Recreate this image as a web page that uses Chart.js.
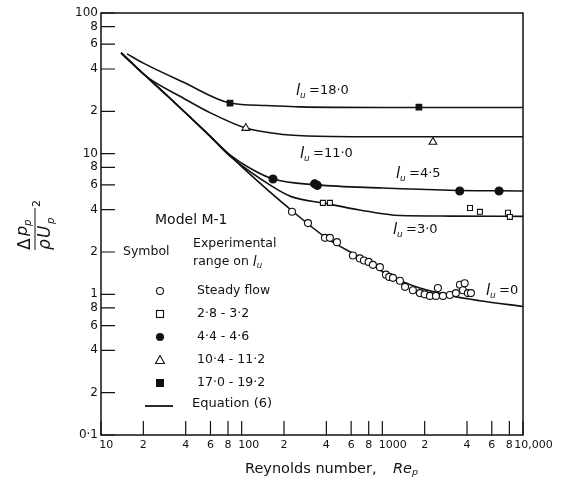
<!DOCTYPE html>
<html>
<head>
<meta charset="utf-8">
<script src="https://cdn.jsdelivr.net/npm/chart.js@4.4.1/dist/chart.umd.min.js"></script>
<style>
  html, body { margin: 0; padding: 0; background: #fff; }
</style>
</head>
<body>
<canvas id="chart" width="566" height="486"></canvas>
<script>
const INK = "#111";
const FONT = "DejaVu Sans";

// axis ticks (decade labels padded so they sit just right of their tick, as in the original)
const xTicks = [10, 20, 40, 60, 80, 100, 200, 400, 600, 800, 1000, 2000, 4000, 6000, 8000, 10000];
const xTickLabels = ["   10", "2", "4", "6", "8", "    100", "2", "4", "6", "8", "      1000", "2", "4", "6", "8", "      10,000"];
const yTicks = [0.1, 0.2, 0.4, 0.6, 0.8, 1, 2, 4, 6, 8, 10, 20, 40, 60, 80, 100];
const yTickLabels = ["0·1", "2", "4", "6", "8", "1", "2", "4", "6", "8", "10", "2", "4", "6", "8", "100"];

// Equation (6) curves
const eq0Re = [13.9, 20, 30, 56.6, 100, 232, 404, 816, 1000, 1650, 2880, 4940, 10000];
const eq0Val = [52, 37, 25.5, 14, 8.1, 3.87, 2.5, 1.67, 1.45, 1.15, 0.99, 0.9, 0.82];
const eq30Re = [13.9, 20, 30, 56.6, 82.6, 167, 225, 385, 690, 1334, 3000, 10000];
const eq30Val = [52, 37, 25.5, 14, 9.6, 5.8, 4.95, 4.45, 3.98, 3.63, 3.6, 3.58];
const eq45Re = [13.9, 20, 30, 56.6, 82.6, 114, 167, 343, 1000, 3000, 10000];
const eq45Val = [52, 37, 25.5, 14, 9.8, 7.9, 6.6, 6.0, 5.7, 5.5, 5.43];
const eq11Re = [13.9, 21.2, 38.3, 60, 107, 197, 350, 1000, 10000];
const eq11Val = [52, 35.1, 24.9, 19.5, 15.2, 13.7, 13.3, 13.2, 13.2];
const eq18Re = [15.3, 20, 38.3, 82.6, 150, 259, 1000, 10000];
const eq18Val = [51.2, 44, 32.3, 22.9, 22.0, 21.5, 21.3, 21.3];

// experimental points
const steadyRe = [228, 296, 391, 424, 476, 618, 692, 740, 800, 857, 961, 1061, 1120, 1190, 1334, 1450, 1648, 1849, 2000, 2179, 2404, 2483, 2697, 3021, 3334, 3562, 3741, 3850, 4056, 4265];
const steadyVal = [3.86, 3.21, 2.52, 2.52, 2.35, 1.89, 1.8, 1.74, 1.7, 1.62, 1.56, 1.38, 1.33, 1.31, 1.25, 1.13, 1.07, 1.02, 1.0, 0.975, 0.975, 1.11, 0.975, 0.99, 1.02, 1.17, 1.07, 1.2, 1.02, 1.02];
const lu3Re = [378, 424, 4200, 4940, 7820, 8070];
const lu3Val = [4.47, 4.47, 4.11, 3.86, 3.8, 3.55];
const lu45Re = [167, 330, 345, 3550, 6760];
const lu45Val = [6.6, 6.1, 5.95, 5.43, 5.43];
const lu11Re = [107, 2290];
const lu11Val = [15.2, 12.1];
const lu18Re = [82.6, 1820];
const lu18Val = [22.9, 21.4];

const legendRows = ["Steady flow", "2·8 - 3·2", "4·4 - 4·6", "10·4 - 11·2", "17·0 - 19·2"];
const curveLabels = ["18·0", "11·0", "4·5", "3·0", "0"];

function pts(xs, ys) {
  return xs.map((v, i) => ({ x: v, y: ys[i] }));
}

function curve(xs, ys) {
  return {
    data: pts(xs, ys),
    showLine: true,
    borderColor: INK,
    borderWidth: 1.6,
    pointRadius: 0,
    cubicInterpolationMode: "monotone",
    order: 2
  };
}

function marks(xs, ys, style, r, fill) {
  return {
    data: pts(xs, ys),
    showLine: false,
    pointStyle: style,
    pointRadius: r,
    pointBackgroundColor: fill,
    pointBorderColor: INK,
    pointBorderWidth: 1.1,
    order: 0
  };
}

function text(ctx, s, x, y, size, style) {
  ctx.font = (style || "") + " " + size + "px '" + FONT + "'";
  ctx.fillText(s, x, y);
  return ctx.measureText(s).width;
}

function luLabel(ctx, x, y, val) {
  text(ctx, "l", x, y, 15, "italic");
  text(ctx, "u", x + 4, y + 5, 9, "italic");
  text(ctx, "=" + val, x + 13, y, 13);
}

const decor = {
  id: "decor",
  afterDraw(chart) {
    const { ctx, chartArea: a, scales } = chart;
    ctx.save();
    ctx.strokeStyle = INK;
    ctx.fillStyle = INK;

    // frame and inward ticks
    ctx.lineWidth = 1.5;
    ctx.strokeRect(a.left, a.top, a.right - a.left, a.bottom - a.top);
    ctx.lineWidth = 1.2;
    ctx.beginPath();
    xTicks.forEach(v => {
      const px = scales.x.getPixelForValue(v);
      ctx.moveTo(px, a.bottom);
      ctx.lineTo(px, a.bottom - 14);
    });
    yTicks.forEach(v => {
      const py = scales.y.getPixelForValue(v);
      ctx.moveTo(a.left, py);
      ctx.lineTo(a.left + 14, py);
    });
    ctx.stroke();

    ctx.textBaseline = "middle";
    ctx.textAlign = "left";

    // legend block
    text(ctx, "Model M-1", 155, 220, 14);
    text(ctx, "Symbol", 123, 252, 12.5);
    text(ctx, "Experimental", 193, 244, 12.5);
    const w = text(ctx, "range on ", 193, 262, 12.5);
    text(ctx, "l", 193 + w, 262, 14, "italic");
    text(ctx, "u", 193 + w + 4, 266, 8.5, "italic");

    const rowY = [291, 314, 337, 360, 383];
    legendRows.forEach((s, i) => text(ctx, s, 197, rowY[i], 12.5));
    text(ctx, "Equation (6)", 192, 404, 13);

    ctx.lineWidth = 1.1;
    const mx = 160;
    ctx.beginPath(); ctx.arc(mx, rowY[0], 3.5, 0, Math.PI * 2); ctx.stroke();
    ctx.strokeRect(mx - 3.5, rowY[1] - 3.5, 7, 7);
    ctx.beginPath(); ctx.arc(mx, rowY[2], 4, 0, Math.PI * 2); ctx.fill();
    ctx.beginPath();
    ctx.moveTo(mx, rowY[3] - 4.5); ctx.lineTo(mx + 4.5, rowY[3] + 3.5); ctx.lineTo(mx - 4.5, rowY[3] + 3.5);
    ctx.closePath(); ctx.stroke();
    ctx.fillRect(mx - 4, rowY[4] - 4, 8, 8);
    ctx.lineWidth = 1.8;
    ctx.beginPath(); ctx.moveTo(145, 406); ctx.lineTo(173, 406); ctx.stroke();

    // curve labels
    const lp = [[296, 91], [300, 154], [396, 174], [393, 230], [486, 291]];
    curveLabels.forEach((s, i) => luLabel(ctx, lp[i][0], lp[i][1], s));

    // x title
    text(ctx, "Reynolds number,", 245, 469, 14.5);
    text(ctx, "Re", 393, 469, 14.5, "italic");
    text(ctx, "p", 412, 473, 9.5, "italic");

    // y title (fraction, rotated)
    ctx.translate(35, 226);
    ctx.rotate(-Math.PI / 2);
    ctx.textBaseline = "alphabetic";
    ctx.lineWidth = 1;
    ctx.beginPath(); ctx.moveTo(-24, 0); ctx.lineTo(18, 0); ctx.stroke();
    text(ctx, "Δ", -24, -5, 17);
    text(ctx, "p", -10, -8, 16, "italic");
    text(ctx, "p", 0, -4, 10, "italic");
    text(ctx, "ρ", -24, 15, 17, "italic");
    text(ctx, "U", -12, 15, 17, "italic");
    text(ctx, "p", 2, 19, 10, "italic");
    text(ctx, "2", 19, 5, 11);
    ctx.restore();
  }
};

new Chart(document.getElementById("chart").getContext("2d"), {
  type: "scatter",
  data: {
    datasets: [
      marks(steadyRe, steadyVal, "circle", 3.5, "#fff"),
      marks(lu3Re, lu3Val, "rect", 3.5, "#fff"),
      marks(lu45Re, lu45Val, "circle", 4, INK),
      marks(lu11Re, lu11Val, "triangle", 4.5, "#fff"),
      marks(lu18Re, lu18Val, "rect", 4, INK),
      curve(eq0Re, eq0Val),
      curve(eq30Re, eq30Val),
      curve(eq45Re, eq45Val),
      curve(eq11Re, eq11Val),
      curve(eq18Re, eq18Val)
    ]
  },
  options: {
    responsive: false,
    animation: false,
    events: [],
    layout: { padding: { top: 13, right: 43, left: 0, bottom: 0 } },
    plugins: { legend: { display: false }, tooltip: { enabled: false } },
    scales: {
      x: {
        type: "logarithmic",
        min: 10,
        max: 10000,
        grid: { display: false, drawTicks: false },
        border: { display: false },
        afterBuildTicks: s => { s.ticks = xTicks.map(v => ({ value: v })); },
        afterFit: s => { s.height = 51; },
        ticks: {
          autoSkip: false,
          maxRotation: 0,
          padding: 4,
          color: INK,
          font: { family: FONT, size: 11 },
          callback: (v, i) => xTickLabels[i]
        }
      },
      y: {
        type: "logarithmic",
        min: 0.1,
        max: 100,
        grid: { display: false, drawTicks: false },
        border: { display: false },
        afterBuildTicks: s => { s.ticks = yTicks.map(v => ({ value: v })); },
        afterFit: s => { s.width = 101; },
        ticks: {
          autoSkip: false,
          padding: 3,
          color: INK,
          font: { family: FONT, size: 12 },
          callback: (v, i) => yTickLabels[i]
        }
      }
    }
  },
  plugins: [decor]
});
</script>
</body>
</html>
